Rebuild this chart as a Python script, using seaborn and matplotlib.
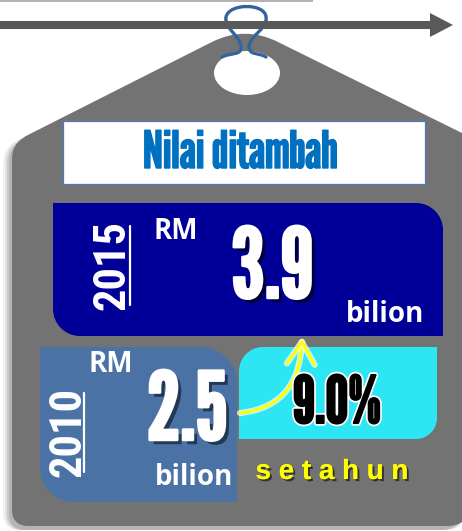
"""
Nilai ditambah infographic - price tag with 2010 / 2015 value added
"""

import matplotlib
matplotlib.use("Agg")
import matplotlib.pyplot as plt
import matplotlib.patheffects as pe
import seaborn as sns
from matplotlib.path import Path
from matplotlib.patches import PathPatch, Ellipse, Rectangle, Polygon, FancyArrowPatch

# Data
title = "Nilai ditambah"
years = ["2010", "2015"]
values = [2.5, 3.9]
currency = "RM"
unit = "bilion"
growth_rate = 9.0
growth_label = "setahun"

# Colours
TAG_GREY = "#737373"
ARROW_GREY = "#595959"
BOX_2015 = "#000099"
BOX_2010 = "#4a72a4"
BOX_GROWTH = "#2ee5f4"
TITLE_BLUE = "#0070c0"
HOOK_BLUE = "#3464a0"

sns.set_style("white")
CONDENSED = ["League Gothic", "Anton", "DejaVu Sans"]
NARROW = ["Liberation Sans Narrow", "Roboto Condensed", "DejaVu Sans"]
SANS = ["Open Sans", "DejaVu Sans"]
ARIAL = ["Liberation Sans", "DejaVu Sans"]
K = 0.5523


def corner_box(x0, y0, x1, y1, tl=0, tr=0, br=0, bl=0):
    """Rectangle path (y axis pointing down) with a radius per corner."""
    verts = [(x0 + tl, y0), (x1 - tr, y0)]
    codes = [Path.MOVETO, Path.LINETO]
    if tr:
        verts += [(x1 - tr + K * tr, y0), (x1, y0 + tr - K * tr), (x1, y0 + tr)]
        codes += [Path.CURVE4] * 3
    verts.append((x1, y1 - br))
    codes.append(Path.LINETO)
    if br:
        verts += [(x1, y1 - br + K * br), (x1 - br + K * br, y1), (x1 - br, y1)]
        codes += [Path.CURVE4] * 3
    verts.append((x0 + bl, y1))
    codes.append(Path.LINETO)
    if bl:
        verts += [(x0 + bl - K * bl, y1), (x0, y1 - bl + K * bl), (x0, y1 - bl)]
        codes += [Path.CURVE4] * 3
    verts.append((x0, y0 + tl))
    codes.append(Path.LINETO)
    if tl:
        verts += [(x0, y0 + tl - K * tl), (x0 + tl - K * tl, y0), (x0 + tl, y0)]
        codes += [Path.CURVE4] * 3
    verts.append((x0 + tl, y0))
    codes.append(Path.CLOSEPOLY)
    return Path(verts, codes)


def tag_path(dx=0, dy=0):
    """Outline of the hanging price tag."""
    v = [
        (212, 42), (234, 31), (256, 31), (278, 42),   # rounded apex
        (466, 135), (466, 512),
        (466, 522), (458, 526), (448, 526),
        (28, 526), (18, 526), (12, 520), (12, 510),
        (12, 160), (12, 146), (18, 140), (30, 134),
        (212, 42),
    ]
    c = [Path.MOVETO, Path.CURVE4, Path.CURVE4, Path.CURVE4,
         Path.LINETO, Path.LINETO,
         Path.CURVE4, Path.CURVE4, Path.CURVE4,
         Path.LINETO, Path.CURVE4, Path.CURVE4, Path.CURVE4,
         Path.LINETO, Path.CURVE4, Path.CURVE4, Path.CURVE4,
         Path.CLOSEPOLY]
    return Path([(x + dx, y + dy) for x, y in v], c)


fig = plt.figure(figsize=(4.62, 5.31), dpi=100)
ax = fig.add_axes([0, 0, 1, 1])
ax.set_xlim(0, 462)
ax.set_ylim(531, 0)
ax.axis("off")

# thin line at the very top and the timeline arrow
ax.plot([0, 313], [0.8, 0.8], color="#a6a6a6", lw=1.2, solid_capstyle="butt")
ax.plot([0, 432], [25, 25], color=ARROW_GREY, lw=5.8, solid_capstyle="butt")
ax.add_patch(Polygon([(430, 13), (453, 25), (430, 37)], closed=True, color=ARROW_GREY, lw=0))

# soft shadow + tag body
for off, a in [(-9, 0.05), (-7, 0.07), (-5, 0.09), (-3, 0.11)]:
    ax.add_patch(PathPatch(tag_path(off, 4), facecolor="#000000", edgecolor="none", alpha=a))
ax.add_patch(PathPatch(tag_path(), facecolor=TAG_GREY, edgecolor="none"))
ax.add_patch(Ellipse((247, 73), 66, 44, facecolor="white", edgecolor="none"))

# hook
hook = Path(
    [(222, 57), (232, 52), (242, 56), (241, 46),
     (240, 36), (224, 28), (226, 17),
     (229, 3), (265, 3), (266, 17),
     (268, 28), (250, 36), (249, 46),
     (249, 56), (258, 52), (266, 57)],
    [Path.MOVETO] + [Path.CURVE4] * 15,
)
ax.add_patch(PathPatch(hook, facecolor="none", edgecolor=HOOK_BLUE, lw=2.4, capstyle="round"))

# title box
ax.add_patch(Rectangle((63, 121), 362, 63, facecolor="white", edgecolor="#4a7ebb", lw=0.9))
ax.text(240, 168, title, color=TITLE_BLUE, fontsize=37, family=CONDENSED,
        ha="center", va="baseline",
        path_effects=[pe.withStroke(linewidth=1.0, foreground=TITLE_BLUE)])

# 2015 box
ax.add_patch(PathPatch(corner_box(53, 203, 443, 336, tr=27, bl=27),
                       facecolor=BOX_2015, edgecolor="none"))
ax.text(125, 265, years[1], rotation=90, rotation_mode="anchor", color="white",
        fontsize=32, fontweight="bold", family=NARROW, ha="center", va="baseline")
ax.plot([130, 130], [226, 305], color="white", lw=1.6)
ax.text(153, 239, currency, color="white", fontsize=20, fontweight="bold",
        family=SANS, ha="left", va="baseline")
ax.text(272, 298, f"{values[1]:.1f}", color="white", fontsize=70, family=CONDENSED,
        ha="center", va="baseline",
        path_effects=[pe.withSimplePatchShadow(offset=(3, -3), shadow_rgbFace="#000022", alpha=0.8),
                      pe.withStroke(linewidth=1.8, foreground="white")])
ax.text(385, 322, unit, color="white", fontsize=20, fontweight="bold",
        family=SANS, ha="center", va="baseline")

# 2010 box
ax.add_patch(PathPatch(corner_box(40, 347, 237, 502, tr=36, bl=34),
                       facecolor=BOX_2010, edgecolor="none"))
ax.text(80, 432, years[0], rotation=90, rotation_mode="anchor", color="white",
        fontsize=32, fontweight="bold", family=NARROW, ha="center", va="baseline")
ax.plot([84, 84], [393, 472], color="white", lw=1.6)
ax.text(111, 372, currency, color="white", fontsize=20, fontweight="bold",
        family=SANS, ha="center", va="baseline")
ax.text(187, 440, f"{values[0]:.1f}", color="white", fontsize=68, family=CONDENSED,
        ha="center", va="baseline",
        path_effects=[pe.withSimplePatchShadow(offset=(3, -3), shadow_rgbFace="#1a2a40", alpha=0.8),
                      pe.withStroke(linewidth=1.8, foreground="white")])
ax.text(194, 485, unit, color="white", fontsize=20, fontweight="bold",
        family=SANS, ha="center", va="baseline")

# growth box
ax.add_patch(PathPatch(corner_box(239, 347, 437, 439, tl=24, br=21),
                       facecolor=BOX_GROWTH, edgecolor="none"))
ax.text(337, 423, f"{growth_rate:.1f}%", color="black", fontsize=47, family=CONDENSED,
        ha="center", va="baseline",
        path_effects=[pe.withStroke(linewidth=4.0, foreground="white"),
                      pe.withStroke(linewidth=1.5, foreground="black")])
ax.text(332, 479, " ".join(growth_label), color="#ffff00", fontsize=20, fontweight="bold",
        family=ARIAL, ha="center", va="baseline",
        path_effects=[pe.withSimplePatchShadow(offset=(1.5, -1.5), shadow_rgbFace="#222222", alpha=0.8),
                      pe.Normal()])

# curved growth arrow
curve = Path([(240, 413), (285, 408), (300, 380), (302, 339)],
             [Path.MOVETO, Path.CURVE4, Path.CURVE4, Path.CURVE4])
arrow = FancyArrowPatch(path=curve, arrowstyle="->,head_length=1.6,head_width=1.0",
                        mutation_scale=10, color="#ffff00", lw=2.2,
                        path_effects=[pe.withStroke(linewidth=4.5, foreground="white", alpha=0.7)])
ax.add_patch(arrow)

fig.savefig("out.png", dpi=100)
plt.close(fig)
